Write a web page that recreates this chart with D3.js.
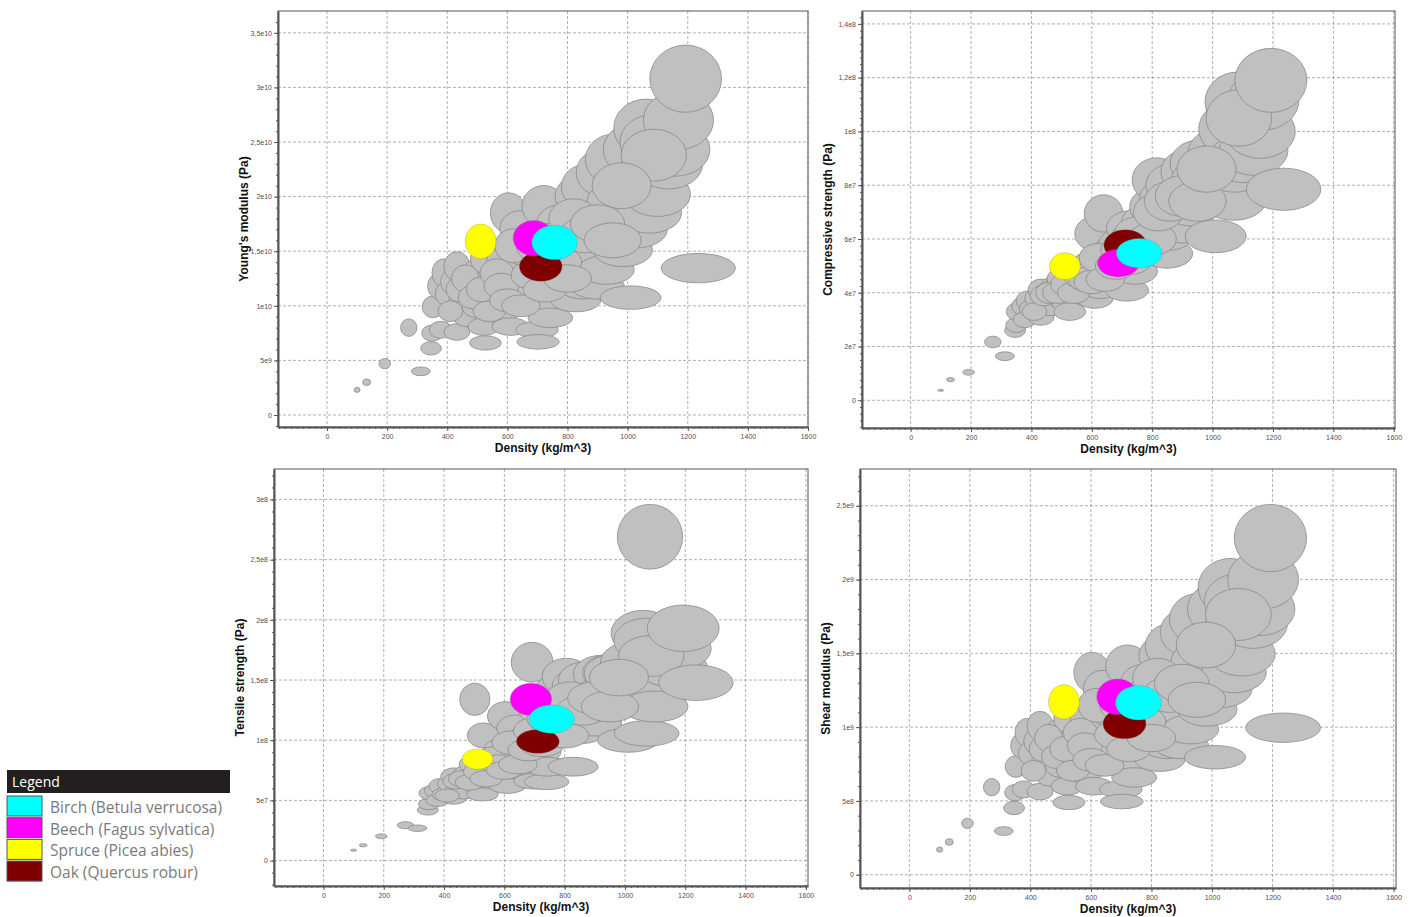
<!DOCTYPE html>
<html lang="en">
<head>
<meta charset="UTF-8">
<title>Wood properties vs density</title>
<script src="https://cdn.jsdelivr.net/npm/d3@7/dist/d3.min.js"></script>
<style>
    body { margin: 0; background: #fff; }
    .grid line { stroke: #9c9c9c; stroke-dasharray: 3,2; stroke-width: 0.8; }
    .axis path, .axis line { stroke: #555; }
    .axis text { font-family: "Liberation Sans", Arial, sans-serif; font-size: 7px; fill: #4d4d5a; }
    .axis-title { font-family: "Liberation Sans", Arial, sans-serif; font-size: 12px; font-weight: bold; fill: #111; }
    .legend-text { font-family: "Open Sans", sans-serif; font-size: 15.5px; fill: #7a7a7a; }
</style>
</head>
<body>
<script>
    var width = 1412;
    var height = 917;

    // background species (kg/m^3, GPa, MPa, MPa, GPa)
    var density = [100, 132, 192, 272, 312, 346, 350, 352, 372, 388, 378, 400, 420, 432, 432, 450, 465, 478, 499, 500,
        502, 521, 527, 530, 545, 555, 577, 590, 604, 610, 613, 628, 639, 650, 665, 670, 692, 699, 702, 716,
        721, 735, 740, 743, 760, 775, 790, 806, 815, 828, 843, 849, 854, 866, 880, 899, 921, 929, 937, 955,
        961, 984, 1010, 1021, 1021, 1029, 1038, 1060, 1070, 1083, 1072, 1099, 1136, 1158, 1169, 1087, 1193, 1235, 410, 440,
        460, 485, 515, 540, 565, 580, 600, 620, 645, 680, 700, 725, 750, 770, 800, 820, 860, 900, 950, 980];
    var youngs = [2.3, 3.0, 4.7, 8.0, 4.0, 6.1, 7.5, 9.9, 11.8, 13.0, 7.8, 11.1, 12.2, 13.6, 7.6, 10.5, 9.0, 11.8, 9.9, 13.0,
        12.0, 8.1, 6.6, 14.3, 11.1, 12.5, 9.3, 14.0, 18.5, 8.1, 12.1, 11.5, 17.0, 13.5, 15.0, 11.0, 14.5, 7.8, 6.7, 12.5,
        19.1, 14.5, 10.5, 8.9, 12.0, 17.5, 13.5, 16.5, 14.5, 10.5, 20.0, 13.0, 11.8, 20.9, 15.5, 11.8, 22.2, 13.3, 18.0, 23.4,
        19.5, 15.1, 10.75, 17.7, 24.3, 17.0, 20.5, 26.3, 22.0, 25.0, 18.5, 20.2, 23.0, 24.3, 27.0, 23.8, 30.8, 13.45, 9.5, 11.5,
        12.5, 10.8, 11.5, 9.5, 13.0, 11.8, 10.5, 15.5, 10.0, 12.8, 15.5, 11.5, 16.0, 14.0, 12.5, 18.0, 16.5, 17.5, 16.0, 21.0];
    var compressive = [3.7, 7.7, 10.4, 21.7, 16.4, 26, 28, 33, 35, 37, 30, 34, 38, 41, 31, 36, 35, 42, 38, 44,
        45, 36, 33, 47, 44, 48, 40, 50, 62, 38, 47, 42, 69.5, 52, 55, 47, 58, 45, 43, 41,
        64, 60, 50, 48, 55, 66, 60, 72, 82, 56, 75, 54.6, 62, 80, 70, 65, 85, 72, 78, 88,
        82, 76, 61, 84, 92, 80, 88, 101, 74.4, 111, 86, 90, 93, 100, 111.7, 105, 119, 78.5, 33, 39,
        40, 40, 43, 40, 46, 45, 44, 53, 45, 50, 56, 52, 62, 58, 60, 70, 74, 76, 74, 86];
    var tensile = [8.6, 12.7, 20.2, 29.4, 26.9, 42, 47, 56, 58, 62, 50, 55, 64, 70, 52, 60, 57, 72, 66, 80,
        134, 60, 55, 104, 75, 82, 70, 92, 120, 62, 85, 78, 110, 95, 100, 88, 164.8, 70, 66, 90,
        125, 110, 65.5, 78, 105, 140, 115, 152.8, 130, 78, 145, 120, 108, 150, 128, 115, 155, 132, 140, 156,
        155.6, 138, 100, 150, 165, 145, 144.5, 189, 183, 269, 105.7, 128, 165, 160, 176, 170, 193, 147.8, 54, 66,
        68, 65, 74, 68, 86, 80, 75, 98, 80, 92, 108, 96, 118, 112, 104, 135, 125, 135, 128, 152];
    var shear = [0.17, 0.222, 0.348, 0.593, 0.296, 0.452, 0.556, 0.733, 0.874, 0.963, 0.578, 0.822, 0.904, 1.007, 0.563, 0.778, 0.667, 0.874, 0.733, 0.963,
        0.889, 0.6, 0.489, 1.059, 0.822, 0.926, 0.689, 1.037, 1.37, 0.6, 0.896, 0.852, 1.259, 1.0, 1.111, 0.815, 1.074, 0.578, 0.496, 0.926,
        1.415, 1.074, 0.778, 0.659, 0.889, 1.296, 1.0, 1.222, 1.074, 0.778, 1.481, 0.963, 0.874, 1.548, 1.148, 0.874, 1.644, 0.985, 1.333, 1.733,
        1.444, 1.119, 0.796, 1.311, 1.8, 1.259, 1.519, 1.948, 1.63, 1.852, 1.37, 1.496, 1.704, 1.8, 2.0, 1.763, 2.281, 0.996, 0.704, 0.852,
        0.926, 0.8, 0.852, 0.704, 0.963, 0.874, 0.778, 1.148, 0.741, 0.948, 1.148, 0.852, 1.185, 1.037, 0.926, 1.333, 1.222, 1.296, 1.185, 1.556];

    // highlighted species
    var species = ["Birch (Betula verrucosa)", "Beech (Fagus sylvatica)", "Spruce (Picea abies)", "Oak (Quercus robur)"];
    var speciesColor = ["#00ffff", "#ff00ff", "#ffff00", "#800000"];
    var speciesDensity = [757, 688, 511, 711];
    var speciesYoungs = [15.8, 16.2, 15.9, 13.6];
    var speciesCompressive = [54.7, 51, 49.9, 57.7];
    var speciesTensile = [117.5, 134, 84.3, 99];
    var speciesShear = [1.165, 1.206, 1.172, 1.023];

    var spread = 0.1; // half axis of each ellipse, relative to the value

    var densityTicks = [0, 200, 400, 600, 800, 1000, 1200, 1400, 1600];
    var youngsTicks = [0, 5, 10, 15, 20, 25, 30, 35];
    var youngsLabels = ["0", "5e9", "1e10", "1,5e10", "2e10", "2,5e10", "3e10", "3,5e10"];
    var compressiveTicks = [0, 20, 40, 60, 80, 100, 120, 140];
    var compressiveLabels = ["0", "2e7", "4e7", "6e7", "8e7", "1e8", "1,2e8", "1,4e8"];
    var tensileTicks = [0, 50, 100, 150, 200, 250, 300];
    var tensileLabels = ["0", "5e7", "1e8", "1,5e8", "2e8", "2,5e8", "3e8"];
    var shearTicks = [0, 0.5, 1, 1.5, 2, 2.5];
    var shearLabels = ["0", "5e8", "1e9", "1,5e9", "2e9", "2,5e9"];

    var panels = [
        {left: 278, top: 11, right: 808, bottom: 427, xDom: [-163, 1600], yDom: [-1.1, 37],
            values: youngs, spec: speciesYoungs, ticks: youngsTicks, labels: youngsLabels, minor: 1,
            title: "Young's modulus (Pa)"},
        {left: 862, top: 11, right: 1395, bottom: 428, xDom: [-161, 1604], yDom: [-10.3, 144.8],
            values: compressive, spec: speciesCompressive, ticks: compressiveTicks, labels: compressiveLabels, minor: 2.5,
            title: "Compressive strength (Pa)"},
        {left: 274, top: 469, right: 808, bottom: 886, xDom: [-164, 1607], yDom: [-21.1, 325.3],
            values: tensile, spec: speciesTensile, ticks: tensileTicks, labels: tensileLabels, minor: 10,
            title: "Tensile strength (Pa)"},
        {left: 860, top: 469, right: 1396, bottom: 888, xDom: [-163, 1608], yDom: [-0.09, 2.749],
            values: shear, spec: speciesShear, ticks: shearTicks, labels: shearLabels, minor: 0.1,
            title: "Shear modulus (Pa)"}
    ];

    var svg = d3.select('body')
        .append('svg')
        .attr('width', width)
        .attr('height', height)
        .style('font-family', 'Liberation Sans, Arial, sans-serif');

    panels.forEach(function (p) {
        var x = d3.scaleLinear().domain(p.xDom).range([p.left, p.right]);
        var y = d3.scaleLinear().domain(p.yDom).range([p.bottom, p.top]);
        var g = svg.append('g');

        // grid
        var grid = g.append('g').attr('class', 'grid');
        grid.selectAll('.gx')
            .data(densityTicks)
            .enter()
            .append('line')
            .attr('x1', function (d) { return x(d); })
            .attr('x2', function (d) { return x(d); })
            .attr('y1', p.top)
            .attr('y2', p.bottom);
        grid.selectAll('.gy')
            .data(p.ticks)
            .enter()
            .append('line')
            .attr('x1', p.left)
            .attr('x2', p.right)
            .attr('y1', function (d) { return y(d); })
            .attr('y2', function (d) { return y(d); });

        // background species
        var idx = d3.range(density.length);
        g.selectAll('.bg')
            .data(idx)
            .enter()
            .append('ellipse')
            .attr('cx', function (i) { return x(density[i]); })
            .attr('cy', function (i) { return y(p.values[i]); })
            .attr('rx', function (i) { return x(density[i] * (1 + spread)) - x(density[i]); })
            .attr('ry', function (i) { return y(p.values[i] * (1 - spread)) - y(p.values[i]); })
            .attr('fill', '#c0c0c0')
            .attr('stroke', '#8a8a8a')
            .attr('stroke-width', 0.8);

        // highlighted species, oak first so birch ends on top
        var order = [3, 2, 1, 0];
        g.selectAll('.hl')
            .data(order)
            .enter()
            .append('ellipse')
            .attr('cx', function (i) { return x(speciesDensity[i]); })
            .attr('cy', function (i) { return y(p.spec[i]); })
            .attr('rx', function (i) { return x(speciesDensity[i] * (1 + spread)) - x(speciesDensity[i]); })
            .attr('ry', function (i) { return y(p.spec[i] * (1 - spread)) - y(p.spec[i]); })
            .attr('fill', function (i) { return speciesColor[i]; })
            .attr('stroke', 'rgba(120,120,120,0.5)')
            .attr('stroke-width', 0.6);

        // frame
        g.append('rect')
            .attr('x', p.left)
            .attr('y', p.top)
            .attr('width', p.right - p.left)
            .attr('height', p.bottom - p.top)
            .attr('fill', 'none')
            .attr('stroke', '#555')
            .attr('stroke-width', 1);

        // axes
        var minorY = d3.range(Math.ceil(p.yDom[0] / p.minor) * p.minor, p.yDom[1], p.minor);
        g.append('g')
            .attr('class', 'axis')
            .attr('transform', 'translate(' + p.left + ',0)')
            .call(d3.axisLeft(y).tickValues(minorY).tickFormat('').tickSize(2).tickSizeOuter(0))
            .select('.domain').attr('stroke-width', 2);
        g.append('g')
            .attr('class', 'axis')
            .attr('transform', 'translate(' + p.left + ',0)')
            .call(d3.axisLeft(y).tickValues(p.ticks)
                .tickFormat(function (d, i) { return p.labels[i]; })
                .tickSize(4).tickPadding(2).tickSizeOuter(0))
            .select('.domain').remove();

        var minorX = d3.range(-160, 1601, 20);
        g.append('g')
            .attr('class', 'axis')
            .attr('transform', 'translate(0,' + p.bottom + ')')
            .call(d3.axisBottom(x).tickValues(minorX).tickFormat('').tickSize(2).tickSizeOuter(0))
            .select('.domain').attr('stroke-width', 2);
        g.append('g')
            .attr('class', 'axis')
            .attr('transform', 'translate(0,' + p.bottom + ')')
            .call(d3.axisBottom(x).tickValues(densityTicks)
                .tickFormat(function (d) { return String(d); })
                .tickSize(4).tickPadding(3).tickSizeOuter(0))
            .select('.domain').remove();

        // titles
        g.append('text')
            .attr('class', 'axis-title')
            .attr('x', (p.left + p.right) / 2)
            .attr('y', p.bottom + 25)
            .attr('text-anchor', 'middle')
            .text('Density (kg/m^3)');
        g.append('text')
            .attr('class', 'axis-title')
            .attr('transform', 'translate(' + (p.left - 30) + ',' + ((p.top + p.bottom) / 2) + ') rotate(-90)')
            .attr('text-anchor', 'middle')
            .text(p.title);
    });

    // legend
    var legend = svg.append('g').attr('transform', 'translate(7,770)');
    legend.append('rect')
        .attr('width', 223)
        .attr('height', 23)
        .attr('fill', '#231f20');
    legend.append('text')
        .attr('x', 5)
        .attr('y', 17)
        .attr('fill', '#fff')
        .style('font-family', 'Open Sans, sans-serif')
        .style('font-size', '14px')
        .text('Legend');
    var rows = legend.selectAll('.row')
        .data(species)
        .enter()
        .append('g')
        .attr('transform', function (d, i) { return 'translate(0,' + (26 + i * 21.7) + ')'; });
    rows.append('rect')
        .attr('width', 35)
        .attr('height', 20)
        .attr('fill', function (d, i) { return speciesColor[i]; })
        .attr('stroke', '#555')
        .attr('stroke-width', 1);
    rows.append('text')
        .attr('class', 'legend-text')
        .attr('x', 43)
        .attr('y', 17)
        .text(function (d) { return d; });
</script>
</body>
</html>
